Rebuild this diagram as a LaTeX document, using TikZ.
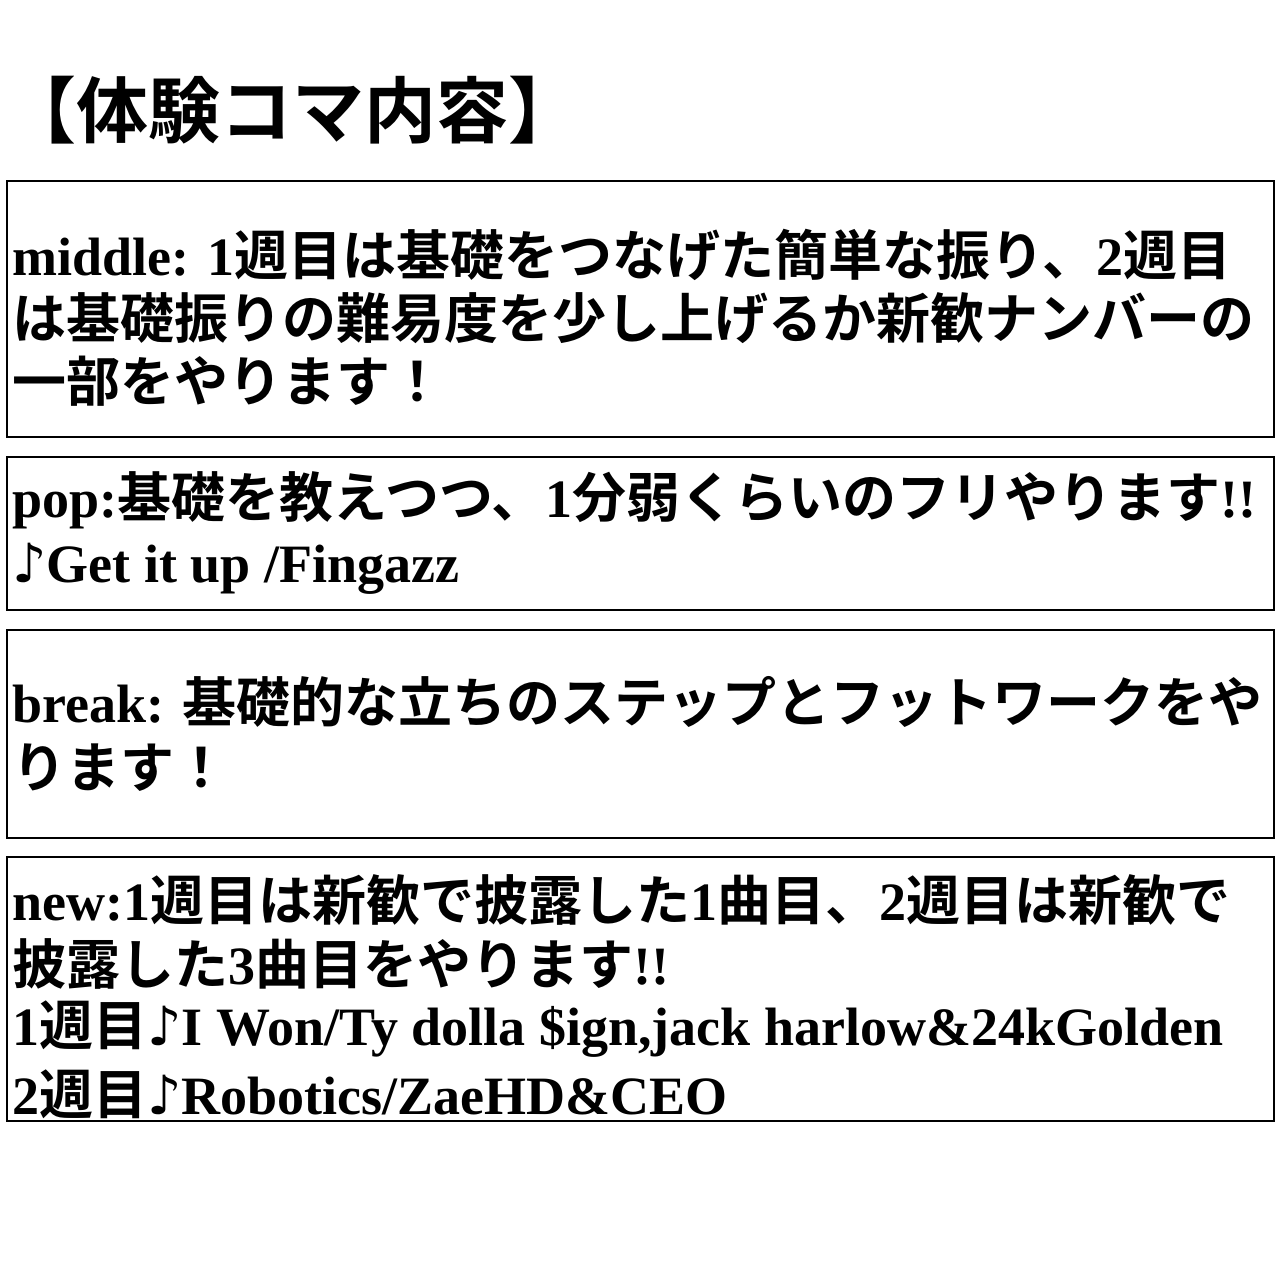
\documentclass[tikz,border=0pt]{standalone}
\usepackage{fontspec}
\setmainfont{Liberation Serif}
\newfontfamily\jp{Noto Sans CJK JP}[BoldFont={Noto Sans CJK JP Bold}]
\newfontfamily\sym{DejaVu Sans}
\begin{document}
\begin{tikzpicture}[x=0.5pt,y=-0.5pt,
  frame/.style={draw=black,line width=1.3pt},
  ln/.style={anchor=west,inner sep=0pt,font=\fontsize{27}{30}\selectfont\bfseries}]
\useasboundingbox[fill=white] (0,0) rectangle (1280,1280);
\node[anchor=west,inner sep=0pt,font=\fontsize{36}{40}\selectfont\bfseries\jp] (title) at (4,110) {【体験コマ内容】};
\draw[frame] (7,181) rectangle (1274,437);
\draw[frame] (7,457) rectangle (1274,610);
\draw[frame] (7,630) rectangle (1274,838);
\draw[frame] (7,857) rectangle (1274,1121);
\node[ln] (a1) at (12,255) {middle: 1{\jp 週目は基礎をつなげた簡単な振り、}2{\jp 週目}};
\node[ln] (a2) at (12,318) {\jp は基礎振りの難易度を少し上げるか新歓ナンバーの};
\node[ln] (a3) at (12,381) {\jp 一部をやります！};
\node[ln] (b1) at (12,500) {pop:{\jp 基礎を教えつつ、}1{\jp 分弱くらいのフリやります}!!};
\node[ln] (b2) at (12,569) {{\sym ♪}Get it up /Fingazz};
\node[ln] (c1) at (12,702) {break: {\jp 基礎的な立ちのステップとフットワークをや}};
\node[ln] (c2) at (12,768) {\jp ります！};
\node[ln] (d1) at (12,900) {new:1{\jp 週目は新歓で披露した}1{\jp 曲目、}2{\jp 週目は新歓で}};
\node[ln] (d2) at (12,964) {{\jp 披露した}3{\jp 曲目をやります}!!};
\node[ln] (d3) at (12,1029) {1{\jp 週目}{\sym ♪}I Won/Ty dolla \$ign,jack harlow\&24kGolden};
\node[ln] (d4) at (12,1094) {2{\jp 週目}{\sym ♪}Robotics/ZaeHD\&CEO};
\end{tikzpicture}
\end{document}
